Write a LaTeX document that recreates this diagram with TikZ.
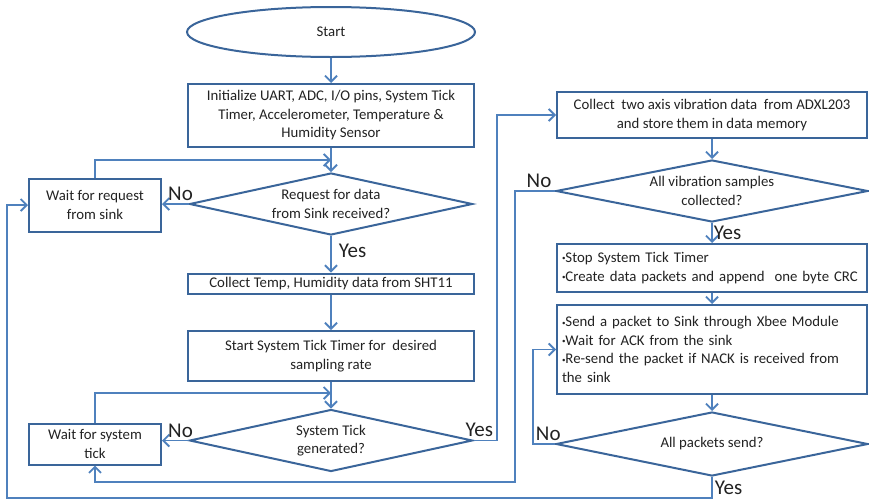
\documentclass[tikz,border=0pt]{standalone}
\usepackage{fontspec}
\setmainfont{Carlito}
\usepackage{xcolor}
\usepackage{tikz}
\usetikzlibrary{positioning}
\usetikzlibrary{arrows.meta}
\usetikzlibrary{calc}
\usetikzlibrary{shapes}

\definecolor{flowline}{HTML}{4F81BD}
\definecolor{flowedge}{HTML}{3A659A}
\definecolor{flowtext}{HTML}{222222}

\newcommand{\bodyfont}{\fontsize{14.8}{18.5}\selectfont}
\newcommand{\itembullet}{\raisebox{0.25ex}{\fontsize{7}{7}\selectfont\textbullet}}

\begin{document}
\begin{tikzpicture}[x=1pt, y=-1pt, >={Straight Barb[length=6pt,width=12pt]},
            process/.style={draw=flowedge, fill=white, rectangle, line width=2pt,
            align=center, inner sep=2pt, text=flowtext, font=\bodyfont},
            listbox/.style={process, align=left, text width=300pt, inner xsep=4pt,
            minimum width=310pt},
            terminal/.style={draw=flowedge, fill=white, ellipse, line width=2pt,
            minimum width=288pt, minimum height=50pt, text=flowtext, font=\bodyfont},
            decision/.style={draw=flowedge, fill=white, diamond, line width=2pt,
            aspect=4.5, inner sep=0pt, minimum width=283pt, minimum height=62pt,
            align=center, text=flowtext, font=\bodyfont},
            answer/.style={text=flowtext, font=\fontsize{21}{24}\selectfont, inner sep=2pt},
            flow/.style={draw=flowline, line width=1.9pt, ->}]
            \useasboundingbox (0,0) rectangle (869,501);

            % left column
            \node[terminal] (start) at (331,32) {Start};
            \node[process, minimum width=286pt, minimum height=63pt] (init) at (331,115.5)
                {Initialize UART, ADC, I/O pins, System Tick\\Timer, Accelerometer, Temperature \&\\Humidity Sensor};
            \node[decision] (request) at (331,204) {Request for data\\from Sink received?};
            \node[process, minimum width=132pt, minimum height=53pt] (waitreq) at (95,205) {Wait for request\\from sink};
            \node[process, minimum width=286pt, minimum height=20pt] (temp) at (331,283.5)
                {Collect Temp, Humidity data from SHT11};
            \node[process, minimum width=286pt, minimum height=50pt] (timer) at (331,356)
                {Start System Tick Timer for~ desired\\sampling rate};
            \node[decision] (tick) at (331,440.5) {System Tick\\generated?};
            \node[process, minimum width=132pt, minimum height=41pt] (waittick) at (95,444) {Wait for system\\tick};

            % right column
            \node[process, minimum width=310pt, minimum height=46pt] (vibration) at (712,115)
                {Collect~ two axis vibration data~ from ADXL203\\and store them in data memory};
            \node[decision, minimum width=312pt] (samples) at (712,191) {All vibration samples\\collected?};
            \node[listbox, minimum height=48pt] (stop) at (712,268)
                {\itembullet Stop System Tick Timer\\\itembullet Create data packets and append~ one byte CRC};
            \node[listbox, minimum height=89pt] (send) at (712,349.5)
                {\itembullet Send a packet to Sink through Xbee Module\\\itembullet Wait for ACK from the sink\\\itembullet Re-send the packet if NACK is received from\\the sink};
            \node[decision, minimum width=312pt, minimum height=64pt] (packets) at (712,444) {All packets send?};

            \coordinate (reqjoin) at (331,160);
            \coordinate (tickjoin) at (331,393);
            \coordinate (yesbend) at (497,300);
            \coordinate (nobend) at (515,482);
            \coordinate (retry) at (533,400);
            \coordinate (outer) at (7,498);

            \draw[flow] (start) -- (init);
            \draw[flow] (init) -- (request);
            \draw[flow] (waitreq.north) |- (reqjoin);
            \draw[flow] (request.west) -- node[answer, above, pos=0.3] {No} (request.west -| waitreq.east);
            \draw[flow] (request) -- node[answer, right, pos=0.4, inner xsep=7pt] {Yes} (temp);
            \draw[flow] (temp) -- (timer);
            \draw[flow] (timer) -- (tick);
            \draw[flow] (waittick.north) |- (tickjoin);
            \draw[flow] (tick.west) -- node[answer, above, pos=0.3] {No} (tick.west -| waittick.east);
            \draw[flow] (tick.east) -| node[answer, above left, pos=0.5, inner sep=3pt] {Yes} (yesbend) |- (vibration.west);
            \draw[flow] (vibration) -- (samples);
            \draw[flow] (samples) -- node[answer, right, inner sep=1pt] {Yes} (stop);
            \draw[flow] (samples.west) -| node[answer, above, pos=0.2] {No} (nobend) -| (waittick.south);
            \draw[flow] (stop) -- (send);
            \draw[flow] (send) -- (packets);
            \draw[flow] (packets.west) -| node[answer, above right, pos=0.5] {No} (retry) |- (send.west);
            \draw[flow] (packets.south) |- node[answer, right, pos=0.25] {Yes} (outer) |- (waitreq.west);
        \end{tikzpicture}
\end{document}
